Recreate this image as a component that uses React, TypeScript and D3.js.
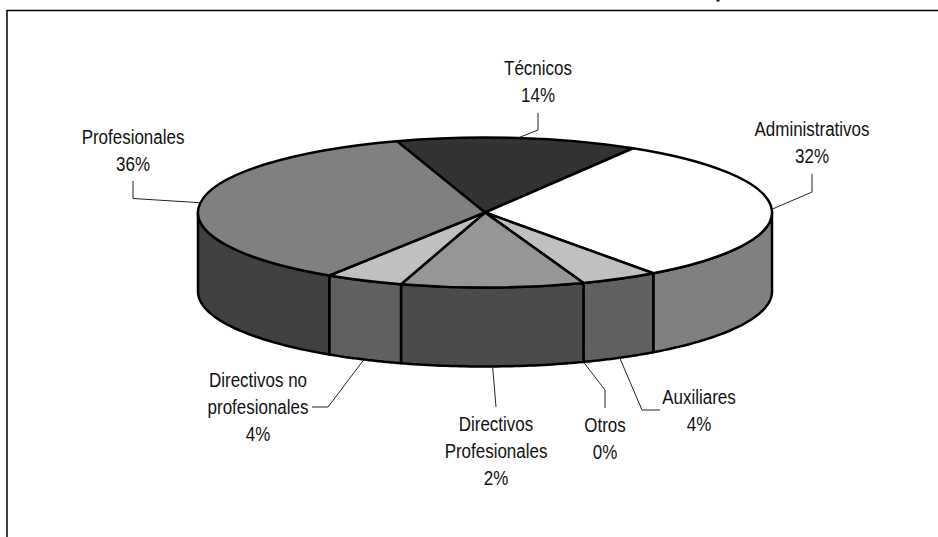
import React from "react";
import * as d3 from "d3";

// Composición del personal por categoría
const categories = [
  "Técnicos",
  "Administrativos",
  "Auxiliares",
  "Otros",
  "Directivos Profesionales",
  "Directivos no profesionales",
  "Profesionales",
];
// Share of each wedge, in percent
const shares = [13.6, 31.4, 4.4, 0, 10.3, 4.4, 35.9];
// Percentages as printed next to the wedges
const printedPercents = ["14%", "32%", "4%", "0%", "2%", "4%", "36%"];
const topFills = ["#333333", "#ffffff", "#c0c0c0", "#c0c0c0", "#969696", "#c0c0c0", "#808080"];
const wallFills = ["#1a1a1a", "#808080", "#606060", "#606060", "#4b4b4b", "#606060", "#404040"];

const WIDTH = 938;
const HEIGHT = 537;
const CX = 485;
const CY = 212.5;
const RX = 287;
const RY = 75;
const DEPTH = 79;
const START = (-17.9 * Math.PI) / 180;

const FONT_SIZE = 19.5;
const TEXT_SQUEEZE = 0.87;
const LINE_GAP = 27;

// Label placement: text lines, centre x, first baseline, leader elbows
const labelLayout = [
  { lines: ["Técnicos"], x: 538, y: 75, elbows: [[538, 130], [538, 113]] },
  { lines: ["Administrativos"], x: 812, y: 136, elbows: [[812, 192], [812, 174]] },
  { lines: ["Auxiliares"], x: 699, y: 404, elbows: [[642, 410], [660, 410]] },
  { lines: ["Otros"], x: 605, y: 432, elbows: [[605, 390], [605, 408]] },
  { lines: ["Directivos", "Profesionales"], x: 496, y: 431, elbows: [[496, 407]] },
  { lines: ["Directivos no", "profesionales"], x: 258, y: 387, elbows: [[328, 407], [312, 407]] },
  { lines: ["Profesionales"], x: 133, y: 144, elbows: [[133, 198.5], [133, 181]] },
];

const pie = d3
  .pie<number>()
  .sort(null)
  .startAngle(START)
  .endAngle(START + 2 * Math.PI);

const arc = d3.arc<d3.PieArcDatum<number>>().innerRadius(0).outerRadius(RX);
const line = d3.line();

const rimX = (a: number) => RX * Math.sin(a);
const rimY = (a: number) => -RY * Math.cos(a);

// Outline of the visible part of a wedge's outer wall
function wallPath(a0: number, a1: number) {
  const from = Math.max(a0, Math.PI / 2);
  const to = Math.min(a1, (3 * Math.PI) / 2);
  if (to <= from) return null;
  const angles = d3.range(0, 41).map((i) => from + ((to - from) * i) / 40);
  const upper = angles.map((a) => [rimX(a), rimY(a)] as [number, number]);
  const lower = angles
    .slice()
    .reverse()
    .map((a) => [rimX(a), rimY(a) + DEPTH] as [number, number]);
  return line([...upper, ...lower]) + "Z";
}

// Leaders start at the wedge's middle angle, on the wall when the wedge faces front
function anchor(a0: number, a1: number) {
  const mid = (a0 + a1) / 2;
  const normalized = mid < 0 ? mid + 2 * Math.PI : mid;
  const front = normalized > Math.PI / 2 + 0.05 && normalized < (3 * Math.PI) / 2 - 0.05;
  return [CX + rimX(mid), CY + rimY(mid) + (front ? DEPTH : 0)];
}

export default function App() {
  const slices = pie(shares);
  return (
    <svg
      width={WIDTH}
      height={HEIGHT}
      viewBox={`0 0 ${WIDTH} ${HEIGHT}`}
      style={{ position: "absolute", left: 0, top: 0, background: "#fff" }}
      fontFamily="'Liberation Sans', Arial, sans-serif"
    >
      {/* Chart frame: only the top and left edges fall inside the view */}
      <path d={`M7,${HEIGHT}V10.5H${WIDTH}`} fill="none" stroke="#000" strokeWidth={1.5} />
      {/* Tail of the heading line above, cut off by the top edge */}
      <rect x={716.5} y={0} width={3} height={1.5} fill="#111" />

      <g transform={`translate(${CX},${CY})`}>
        {slices.map((s, i) => {
          const d = wallPath(s.startAngle, s.endAngle);
          return d ? (
            <path key={i} d={d} fill={wallFills[i]} stroke="#000" strokeWidth={2.5} strokeLinejoin="round" />
          ) : null;
        })}
        <g transform={`scale(1,${RY / RX})`}>
          {slices.map((s, i) => (
            <path
              key={i}
              d={arc(s) ?? ""}
              fill={topFills[i]}
              stroke="#000"
              strokeWidth={2.5}
              strokeLinejoin="round"
              vectorEffect="non-scaling-stroke"
            />
          ))}
        </g>
      </g>

      {slices.map((s, i) => {
        const lay = labelLayout[i];
        const pts = [anchor(s.startAngle, s.endAngle), ...lay.elbows] as [number, number][];
        return <path key={i} d={line(pts) ?? ""} fill="none" stroke="#222" strokeWidth={1} />;
      })}

      {categories.map((c, i) => {
        const lay = labelLayout[i];
        const rows = [...lay.lines, printedPercents[i]];
        return (
          <g key={c} transform={`translate(${lay.x},0) scale(${TEXT_SQUEEZE},1)`}>
            {rows.map((t, j) => (
              <text key={j} y={lay.y + j * LINE_GAP} textAnchor="middle" fontSize={FONT_SIZE} fill="#111">
                {t}
              </text>
            ))}
          </g>
        );
      })}
    </svg>
  );
}
